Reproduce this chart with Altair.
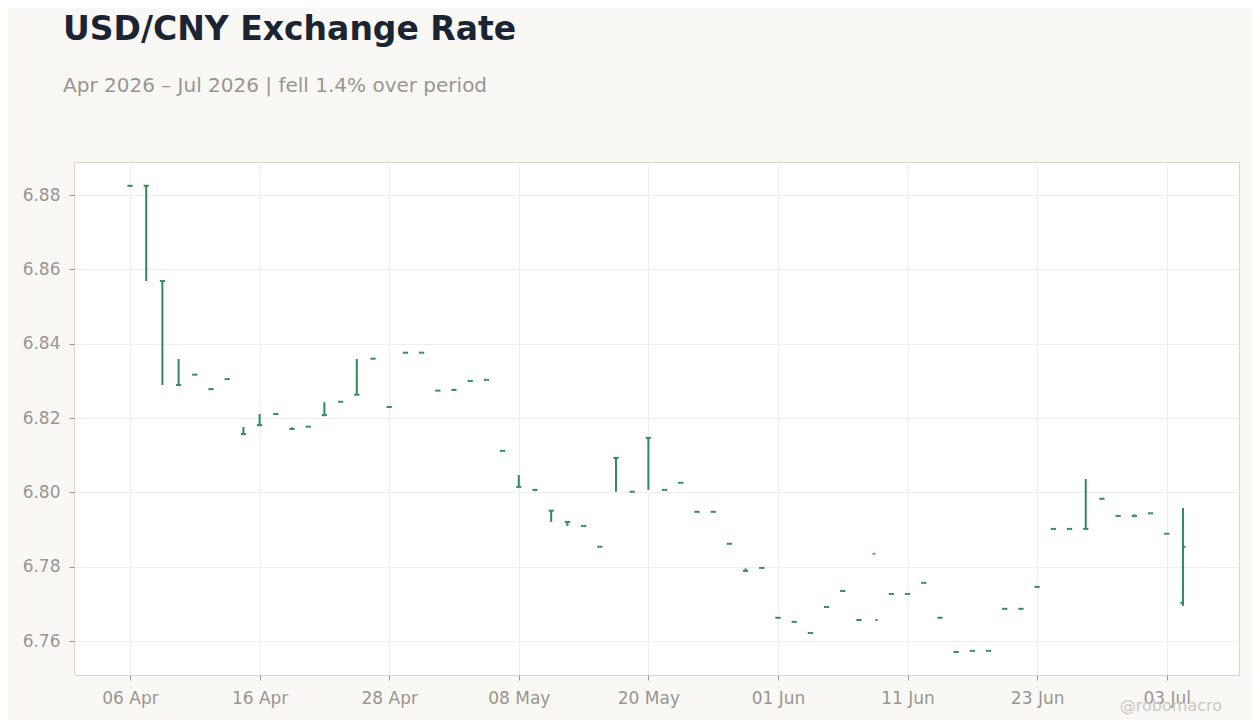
import altair as alt
import pandas as pd

# Business-day index (06 Apr 2026 .. 06 Jul 2026)
idx = list(range(66))

opens = [6.8825, 6.8825, 6.8569, 6.8289, 6.8317, 6.8278, 6.8305, 6.8157, 6.8181, 6.8211,
         6.8171, 6.8177, 6.8208, 6.8244, 6.8263, 6.8360, 6.8230, 6.8376, 6.8376, 6.8274,
         6.8276, 6.8300, 6.8303, 6.8112, 6.8015, 6.8007, 6.7951, 6.7921, 6.7910, 6.7854,
         6.8093, 6.8002, 6.8147, 6.8007, 6.8026, 6.7948, 6.7948, 6.7862, 6.7789, 6.7797,
         6.7663, 6.7652, 6.7622, 6.7692, 6.7735, 6.7657, 6.7835, 6.7727, 6.7727, 6.7757,
         6.7663, 6.7571, 6.7574, 6.7574, 6.7687, 6.7687, 6.7746, 6.7902, 6.7902, 6.7902,
         6.7983, 6.7937, 6.7937, 6.7944, 6.7889, 6.7703]
highs = [6.8825, 6.8825, 6.8569, 6.8359, 6.8317, 6.8278, 6.8305, 6.8176, 6.8211, 6.8211,
         6.8175, 6.8177, 6.8243, 6.8244, 6.8359, 6.8360, 6.8230, 6.8376, 6.8376, 6.8274,
         6.8276, 6.8300, 6.8303, 6.8112, 6.8047, 6.8007, 6.7951, 6.7921, 6.7910, 6.7854,
         6.8093, 6.8002, 6.8147, 6.8007, 6.8026, 6.7948, 6.7948, 6.7862, 6.7796, 6.7797,
         6.7663, 6.7652, 6.7622, 6.7692, 6.7735, 6.7657, None, 6.7727, 6.7727, 6.7757,
         6.7663, 6.7571, 6.7574, 6.7574, 6.7687, 6.7687, 6.7746, 6.7902, 6.7902, 6.8036,
         6.7983, 6.7937, 6.7941, 6.7944, 6.7889, 6.7958]
lows = [6.8825, 6.8569, 6.8289, 6.8289, 6.8317, 6.8278, 6.8305, 6.8157, 6.8181, 6.8211,
        6.8171, 6.8177, 6.8208, 6.8244, 6.8263, 6.8360, 6.8230, 6.8376, 6.8376, 6.8274,
        6.8276, 6.8300, 6.8303, 6.8112, 6.8015, 6.8007, 6.7921, 6.7910, 6.7910, 6.7854,
        6.8002, 6.8002, 6.8007, 6.8007, 6.8026, 6.7948, 6.7948, 6.7862, 6.7789, 6.7797,
        6.7663, 6.7652, 6.7622, 6.7692, 6.7735, 6.7657, None, 6.7727, 6.7727, 6.7757,
        6.7663, 6.7571, 6.7574, 6.7574, 6.7687, 6.7687, 6.7746, 6.7902, 6.7902, 6.7902,
        6.7983, 6.7937, 6.7937, 6.7944, 6.7889, 6.7695]
closes = [6.8825, 6.8825, 6.8569, 6.8289, 6.8317, 6.8278, 6.8305, 6.8157, 6.8181, 6.8211,
          6.8171, 6.8177, 6.8208, 6.8244, 6.8263, 6.8360, 6.8230, 6.8376, 6.8376, 6.8274,
          6.8276, 6.8300, 6.8303, 6.8112, 6.8015, 6.8007, 6.7951, 6.7921, 6.7910, 6.7854,
          6.8093, 6.8002, 6.8147, 6.8007, 6.8026, 6.7948, 6.7948, 6.7862, 6.7789, 6.7797,
          6.7663, 6.7652, 6.7622, 6.7692, 6.7735, 6.7657, 6.7657, 6.7727, 6.7727, 6.7757,
          6.7663, 6.7571, 6.7574, 6.7574, 6.7687, 6.7687, 6.7746, 6.7902, 6.7902, 6.7902,
          6.7983, 6.7937, 6.7937, 6.7944, 6.7889, 6.7854]

tick_positions = [0, 8, 16, 24, 32, 40, 48, 56, 64]
tick_labels = ["06 Apr", "16 Apr", "28 Apr", "08 May", "20 May", "01 Jun", "11 Jun", "23 Jun", "03 Jul"]
y_ticks = [6.76, 6.78, 6.80, 6.82, 6.84, 6.86, 6.88]

df = pd.DataFrame({"i": idx, "open": opens, "high": highs, "low": lows, "close": closes})

FONT = "DejaVu Sans"
GREEN = "#2e8b57"
RED = "#dc5f3c"
TW = 0.16

label_expr = "[" + ",".join(f"'{l}'" for l in tick_labels) + "][round(datum.value / 8)]"

xscale = alt.Scale(domain=[-3.457, 68.46], nice=False, zero=False)
yscale = alt.Scale(domain=[6.7509, 6.8889], nice=False, zero=False)
color = alt.Color("dir:N", scale=alt.Scale(domain=["up", "down"], range=[GREEN, RED]), legend=None)

xaxis = alt.Axis(values=tick_positions, labelExpr=label_expr, title=None, labelPadding=10)
yaxis = alt.Axis(values=y_ticks, format=".2f", title=None, labelPadding=9)

base = alt.Chart(df).transform_calculate(
    dir="datum.close >= datum.open ? 'up' : 'down'",
    xl=f"datum.i - {TW}",
    xr=f"datum.i + {TW}",
)

hl = base.mark_rule(strokeWidth=2, strokeCap="butt").encode(
    x=alt.X("i:Q", scale=xscale, axis=xaxis),
    y=alt.Y("low:Q", scale=yscale, axis=yaxis),
    y2="high:Q",
    color=color,
)
op = base.mark_rule(strokeWidth=2, strokeCap="butt").encode(
    x=alt.X("xl:Q", scale=xscale, axis=xaxis),
    x2="i:Q",
    y=alt.Y("open:Q", scale=yscale, axis=yaxis),
    color=color,
)
cl = base.mark_rule(strokeWidth=2, strokeCap="butt").encode(
    x=alt.X("i:Q", scale=xscale, axis=xaxis),
    x2="xr:Q",
    y=alt.Y("close:Q", scale=yscale, axis=yaxis),
    color=color,
)

wm = alt.Chart(pd.DataFrame({"t": ["@robomacro"]})).mark_text(
    align="right", baseline="alphabetic", fontSize=16, font=FONT, color="#cbc8c2"
).encode(x=alt.value(1148), y=alt.value(549), text="t:N")

chart = alt.layer(hl, op, cl, wm).properties(
    width=1165,
    height=513,
    autosize="none",
    padding={"left": 66, "top": 154, "right": 13, "bottom": 45},
    background="#f9f8f5",
    title=alt.Title(
        "USD/CNY Exchange Rate",
        subtitle="Apr 2026 \u2013 Jul 2026 | fell 1.4% over period",
        anchor="start",
        frame="group",
        font=FONT,
        fontSize=33,
        fontWeight="bold",
        color="#1b2433",
        subtitleFont=FONT,
        subtitleFontSize=20,
        subtitleColor="#9a9590",
        subtitlePadding=29,
        offset=66,
        dx=-11,
    ),
).configure_view(
    fill="#ffffff", stroke="#ddd6cb", strokeWidth=1
).configure_axis(
    domain=False,
    grid=True,
    gridColor="#eeeeee",
    gridWidth=1,
    tickColor="#9a9590",
    tickSize=5,
    labelColor="#9a9590",
    labelFont=FONT,
    labelFontSize=17,
)

chart.save("out.html", embed_options={"renderer": "svg", "actions": False})
